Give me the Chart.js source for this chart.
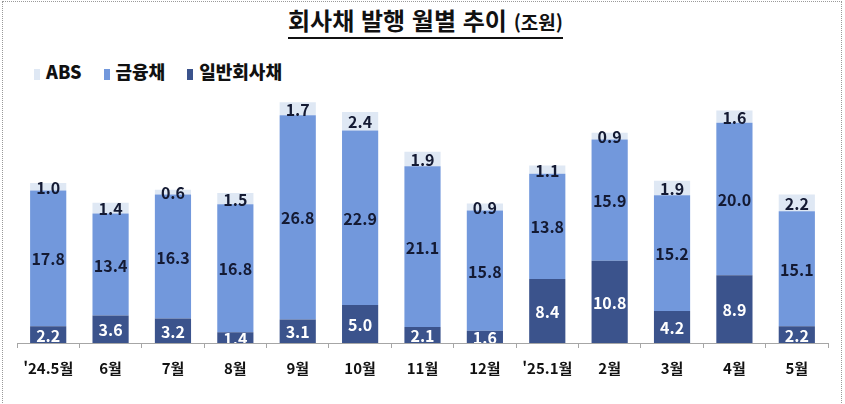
<!DOCTYPE html>
<html lang="ko">
<head>
    <meta charset="UTF-8">
    <title>회사채 발행 월별 추이</title>
    <script src="https://cdn.jsdelivr.net/npm/chart.js"></script>
    <style>
        body{
            margin: 0;
            background: #fff;
            font-family: "Noto Sans CJK KR", "Noto Sans", sans-serif;
        }
        .wrap{
            position: relative;
            width: 845px;
            height: 404px;
        }
        .frame{
            position: absolute;
            left: 2px; top: 1px;
            width: 838px; height: 420px;
            border: 1px dotted #9a9a9a;
        }
        .title{
            position: absolute;
            left: 0; right: 0; top: 2px;
            text-align: center;
            font-weight: bold;
            font-size: 24px;
            color: #111;
            padding-left: 6px;
        }
        .title span{
            border-bottom: 2px solid #111;
        }
        .title small{ font-size: 19px; }
        .legend{
            position: absolute;
            left: 34px; top: 58px;
            font-weight: bold;
            font-size: 18px;
            color: #111;
        }
        .legend i{
            display: inline-block;
            width: 6px; height: 11px;
            margin-right: 6px;
            vertical-align: -1px;
        }
        .legend b{ margin-right: 22px; }
        canvas{ position: absolute; left: 0; top: 0; }
    </style>
</head>
<body>
<div class="wrap">
    <div class="frame"></div>
    <div class="title"><span>회사채 발행 월별 추이 <small>(조원)</small></span></div>
    <div class="legend" id="legend"></div>
    <canvas id="bondChart" width="845" height="404"></canvas>
</div>
<script>
    const months = ["'24.5월", "6월", "7월", "8월", "9월", "10월", "11월", "12월", "'25.1월", "2월", "3월", "4월", "5월"];
    const general = [2.2, 3.6, 3.2, 1.4, 3.1, 5.0, 2.1, 1.6, 8.4, 10.8, 4.2, 8.9, 2.2];
    const financial = [17.8, 13.4, 16.3, 16.8, 26.8, 22.9, 21.1, 15.8, 13.8, 15.9, 15.2, 20.0, 15.1];
    const abs = [1.0, 1.4, 0.6, 1.5, 1.7, 2.4, 1.9, 0.9, 1.1, 0.9, 1.9, 1.6, 2.2];

    const colors = { general: '#3b538c', financial: '#7298dc', abs: '#dfe8f4' };

    // legend order in the picture: ABS, 금융채, 일반회사채
    document.getElementById('legend').innerHTML =
        '<i style="background:' + colors.abs + '"></i><b>ABS</b>' +
        '<i style="background:' + colors.financial + '"></i><b>금융채</b>' +
        '<i style="background:' + colors.general + '"></i><b>일반회사채</b>';

    const segmentLabels = {
        id: 'segmentLabels',
        afterDatasetsDraw(chart) {
            const ctx = chart.ctx;
            const area = chart.chartArea;
            ctx.save();
            ctx.beginPath();
            ctx.rect(area.left, area.top - 30, area.right - area.left, area.bottom - area.top + 30);
            ctx.clip();
            ctx.font = 'bold 16px "Noto Sans CJK KR", "Noto Sans", sans-serif';
            ctx.textAlign = 'center';
            ctx.textBaseline = 'middle';
            chart.data.datasets.forEach((ds, i) => {
                const meta = chart.getDatasetMeta(i);
                meta.data.forEach((bar, j) => {
                    const mid = (bar.y + bar.base) / 2;
                    ctx.fillStyle = ds.labelColor;
                    ctx.fillText(ds.data[j].toFixed(1), bar.x, mid + 1);
                });
            });
            ctx.restore();
        }
    };

    new Chart(document.getElementById('bondChart'), {
        type: 'bar',
        data: {
            labels: months,
            datasets: [
                { label: '일반회사채', data: general, backgroundColor: colors.general, labelColor: '#ffffff' },
                { label: '금융채', data: financial, backgroundColor: colors.financial, labelColor: '#141a33' },
                { label: 'ABS', data: abs, backgroundColor: colors.abs, labelColor: '#141a33' }
            ]
        },
        options: {
            responsive: false,
            animation: false,
            layout: { padding: { left: 17, right: 17, top: 90, bottom: 16 } },
            datasets: { bar: { categoryPercentage: 1, barPercentage: 0.58 } },
            plugins: { legend: { display: false }, tooltip: { enabled: false } },
            scales: {
                x: {
                    stacked: true,
                    border: { color: '#a6a6a6' },
                    grid: { drawOnChartArea: false, tickLength: 5, color: '#a6a6a6' },
                    ticks: {
                        padding: 11,
                        color: '#111',
                        font: { size: 15, weight: 'bold', family: '"Noto Sans CJK KR", "Noto Sans", sans-serif' }
                    }
                },
                y: {
                    stacked: true,
                    display: false,
                    min: 0,
                    max: 33.2
                }
            }
        },
        plugins: [segmentLabels]
    });
</script>
</body>
</html>
